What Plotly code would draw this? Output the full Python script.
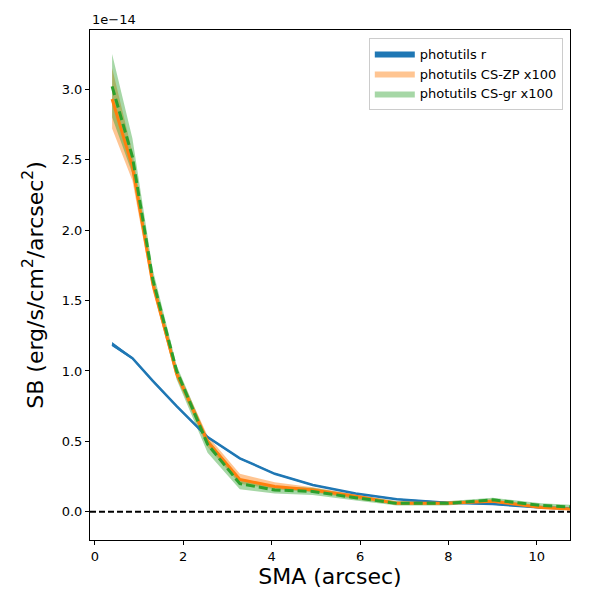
import plotly.graph_objects as go

# data (SB in units of 1e-14 erg/s/cm^2/arcsec^2)
sma = [0.39, 0.85, 1.31, 1.85, 2.55, 3.28, 4.07, 4.93, 5.90, 6.83, 7.96, 9.00, 10.10, 11.10]

r_sb = [1.19, 1.09, 0.93, 0.75, 0.53, 0.38, 0.27, 0.19, 0.13, 0.09, 0.065, 0.055, 0.03, 0.02]
r_lo = [1.175, 1.082, 0.922, 0.743, 0.523, 0.374, 0.265, 0.185, 0.126, 0.086, 0.061, 0.051, 0.026, 0.016]
r_hi = [1.205, 1.098, 0.938, 0.757, 0.537, 0.386, 0.275, 0.195, 0.134, 0.094, 0.069, 0.059, 0.034, 0.024]

zp_sb = [2.93, 2.45, 1.62, 0.98, 0.50, 0.23, 0.18, 0.155, 0.11, 0.06, 0.06, 0.075, 0.03, 0.015]
zp_lo = [2.72, 2.35, 1.57, 0.95, 0.46, 0.20, 0.16, 0.14, 0.09, 0.05, 0.05, 0.065, 0.02, 0.008]
zp_hi = [3.15, 2.55, 1.68, 1.02, 0.54, 0.27, 0.21, 0.175, 0.125, 0.075, 0.075, 0.09, 0.045, 0.025]

gr_sb = [3.02, 2.52, 1.65, 1.00, 0.48, 0.20, 0.155, 0.145, 0.10, 0.06, 0.06, 0.085, 0.045, 0.03]
gr_lo = [2.80, 2.40, 1.59, 0.94, 0.42, 0.16, 0.13, 0.12, 0.08, 0.045, 0.045, 0.07, 0.03, 0.018]
gr_hi = [3.25, 2.65, 1.72, 1.04, 0.52, 0.23, 0.18, 0.17, 0.12, 0.075, 0.075, 0.10, 0.06, 0.045]

x_ticks = [0, 2, 4, 6, 8, 10]
y_ticks = [0, 0.5, 1.0, 1.5, 2.0, 2.5, 3.0]

blue = "#1f77b4"
orange = "#ff7f0e"
green = "#2ca02c"

fig = go.Figure()

def band(lo, hi, fillcolor, name):
    fig.add_trace(go.Scatter(x=sma, y=lo, mode="lines", line=dict(width=0),
                             showlegend=False, hoverinfo="skip"))
    fig.add_trace(go.Scatter(x=sma, y=hi, mode="lines", line=dict(width=0),
                             fill="tonexty", fillcolor=fillcolor, name=name))

band(r_lo, r_hi, blue, "photutils r")
band(zp_lo, zp_hi, "rgba(255,127,14,0.45)", "photutils CS-ZP x100")
band(gr_lo, gr_hi, "rgba(44,160,44,0.42)", "photutils CS-gr x100")

fig.add_trace(go.Scatter(x=sma, y=r_sb, mode="lines", line=dict(color=blue, width=2.5),
                         showlegend=False))
fig.add_trace(go.Scatter(x=sma, y=zp_sb, mode="lines", line=dict(color=orange, width=3),
                         showlegend=False))
fig.add_trace(go.Scatter(x=sma, y=gr_sb, mode="lines",
                         line=dict(color=green, width=3, dash="9px,4px"),
                         showlegend=False))

fig.add_hline(y=0, line=dict(color="black", width=2, dash="6px,3px"))

axis_common = dict(showline=True, linecolor="black", linewidth=1, mirror=True,
                   ticks="outside", ticklen=4, tickcolor="black", showgrid=False,
                   zeroline=False, automargin=False,
                   tickfont=dict(family="DejaVu Sans", size=13, color="black"))

fig.update_xaxes(range=[-0.11, 10.75], tickvals=x_ticks,
                 title=dict(text="SMA (arcsec)", font=dict(family="DejaVu Sans", size=22, color="black"),
                            standoff=4),
                 **axis_common)
fig.update_yaxes(range=[-0.2, 3.42], tickvals=y_ticks,
                 tickformat=".1f",
                 title=dict(text="SB (erg/s/cm<sup>2</sup>/arcsec<sup>2</sup>)",
                            font=dict(family="DejaVu Sans", size=22, color="black"), standoff=12),
                 **axis_common)

fig.add_annotation(text="1e\u221214", xref="paper", yref="paper", x=0, y=1.0,
                   xanchor="left", yanchor="bottom", showarrow=False, yshift=1,
                   font=dict(family="DejaVu Sans", size=13, color="black"))

fig.update_layout(
    width=600, height=600,
    margin=dict(l=82, r=38, t=22, b=68),
    plot_bgcolor="white", paper_bgcolor="white",
    legend=dict(x=0.985, y=0.985, xanchor="right", yanchor="top",
                traceorder="normal",
                bgcolor="rgba(255,255,255,0.8)", bordercolor="#cccccc", borderwidth=1,
                font=dict(family="DejaVu Sans", size=13, color="black"),
                itemwidth=40, tracegroupgap=0),
)

fig.write_html("out.html")
